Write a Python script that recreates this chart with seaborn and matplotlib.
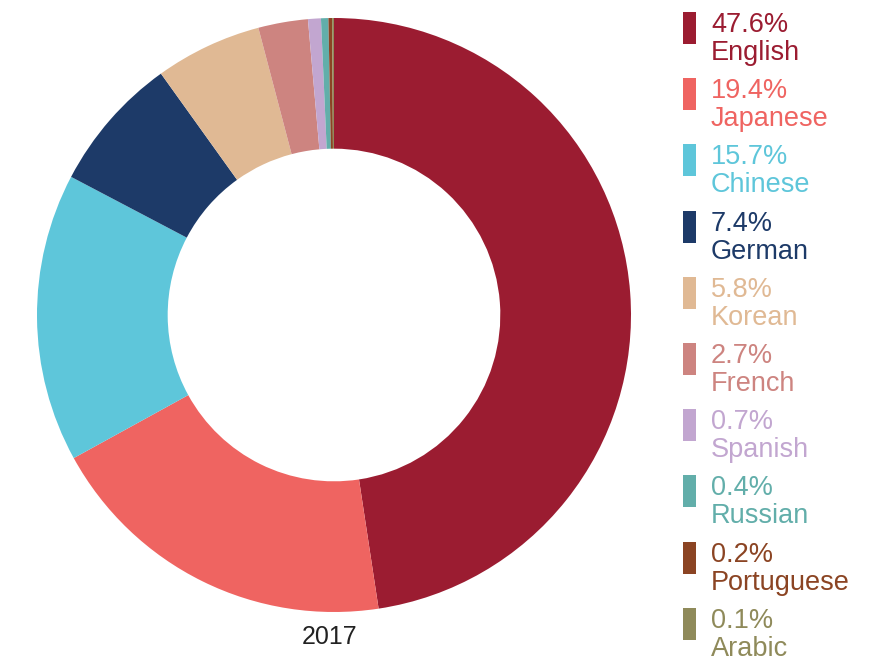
import matplotlib
matplotlib.use('Agg')
import matplotlib.pyplot as plt
from matplotlib.patches import Rectangle
import seaborn as sns

# Dados
v_idiomas = ['English', 'Japanese', 'Chinese', 'German', 'Korean',
             'French', 'Spanish', 'Russian', 'Portuguese', 'Arabic']
v_percentuais = [47.6, 19.4, 15.7, 7.4, 5.8, 2.7, 0.7, 0.4, 0.2, 0.1]
v_cores = ['#9B1C31', '#EF6461', '#5EC6DA', '#1D3A68', '#E0B994',
           '#CD8480', '#C2A6D0', '#62AEAA', '#8B4423', '#8F8A5A']
v_ano = '2017'

sns.set_style('white')
plt.rcParams['font.family'] = ['Liberation Sans', 'DejaVu Sans']

W, H = 877, 663
fig = plt.figure(figsize=(W / 100, H / 100), dpi=100)

# Rosca
cx, cy, r = 334, 315, 297
ax = fig.add_axes([(cx - r) / W, (H - cy - r) / H, 2 * r / W, 2 * r / H])
ax.pie(v_percentuais, colors=v_cores, startangle=90, counterclock=False,
       radius=1, wedgeprops=dict(width=0.44, linewidth=0))
ax.set_xlim(-1, 1)
ax.set_ylim(-1, 1)
ax.axis('off')

fig.text(330 / W, 1 - 637 / H, v_ano, ha='center', va='center',
         fontsize=18, color='#222222')

# Legenda manual
for i, (nome, pct, cor) in enumerate(zip(v_idiomas, v_percentuais, v_cores)):
    topo = 12 + 66.2 * i
    fig.add_artist(Rectangle((683 / W, 1 - (topo + 32) / H), 13 / W, 32 / H,
                             transform=fig.transFigure, color=cor, linewidth=0))
    fig.text(711 / W, 1 - (topo + 20) / H, f'{pct}%', color=cor,
             fontsize=19.5, va='baseline', ha='left')
    fig.text(711 / W, 1 - (topo + 48) / H, nome, color=cor,
             fontsize=19.5, va='baseline', ha='left')

fig.savefig('out.png', dpi=100)
